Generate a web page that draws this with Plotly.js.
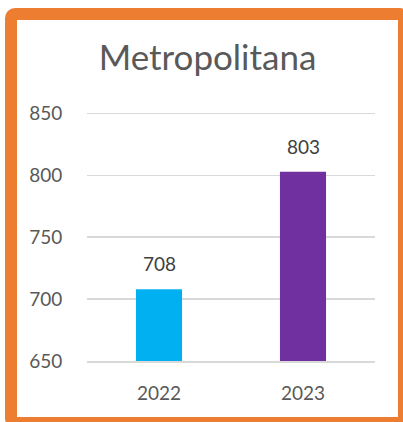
<!DOCTYPE html>
<html>
<head>
<meta charset="utf-8">
<script src="https://cdn.plot.ly/plotly-3.0.1.min.js"></script>
<style>
  html, body { margin: 0; padding: 0; background: #ffffff; overflow: hidden; }
  #frame {
    position: absolute; left: 5px; top: 8px;
    width: 381px; height: 397px;
    border: 12px solid #ED7D31; border-radius: 10px;
    background: #ffffff;
  }
  #chart { position: absolute; left: 0; top: 0; width: 403px; height: 422px; }
  #err { position: absolute; left: 20px; top: 300px; color: red; font-size: 10px; }
</style>
</head>
<body>
<div id="frame"></div>
<div id="chart"></div>
<div id="err"></div>
<script>
const categories = ["2022", "2023"];
const values = [708, 803];
const barColors = ["#00B0F0", "#7030A0"];
const yTicks = [650, 700, 750, 800, 850];
const chartTitle = "Metropolitana";

try {
const trace = {
  type: "bar",
  x: categories,
  y: values,
  text: values.map(String),
  textposition: "none",
  marker: { color: barColors },
  hoverinfo: "none"
};

const annotations = values.map((v, i) => ({
  x: i, y: v, xref: "x", yref: "y",
  text: String(v),
  showarrow: false, yanchor: "bottom", yshift: 12,
  font: { family: "Lato, sans-serif", size: 19, color: "#404040" }
}));

const layout = {
  width: 403, height: 422,
  paper_bgcolor: "rgba(0,0,0,0)",
  plot_bgcolor: "rgba(0,0,0,0)",
  margin: { l: 87, r: 28, t: 111, b: 61 },
  showlegend: false,
  bargap: 0.68,
  title: {
    text: chartTitle,
    x: 0.515, xanchor: "center",
    y: 0.834, yanchor: "bottom", yref: "container",
    font: { family: "Lato, sans-serif", size: 35, color: "#595959" }
  },
  xaxis: {
    type: "category",
    range: [-0.5, 1.5],
    showline: true, linecolor: "#D9D9D9", linewidth: 1.5,
    showgrid: false, zeroline: false,
    ticks: "outside", ticklen: 15, tickcolor: "rgba(0,0,0,0)",
    tickfont: { family: "Lato, sans-serif", size: 19, color: "#595959" }
  },
  yaxis: {
    range: [650, 852],
    tickvals: yTicks,
    ticktext: yTicks.map(String),
    showline: false, zeroline: false,
    showgrid: true, gridcolor: "#D9D9D9", gridwidth: 1.5,
    ticks: "outside", ticklen: 20, tickcolor: "rgba(0,0,0,0)",
    tickfont: { family: "Lato, sans-serif", size: 19, color: "#595959" }
  },
  annotations: annotations
};

Plotly.newPlot("chart", [trace], layout, { displayModeBar: false, staticPlot: true })
  .catch(e => { document.getElementById("err").textContent = String(e); });
} catch (e) {
  document.getElementById("err").textContent = String(e && e.stack || e);
}
</script>
</body>
</html>
